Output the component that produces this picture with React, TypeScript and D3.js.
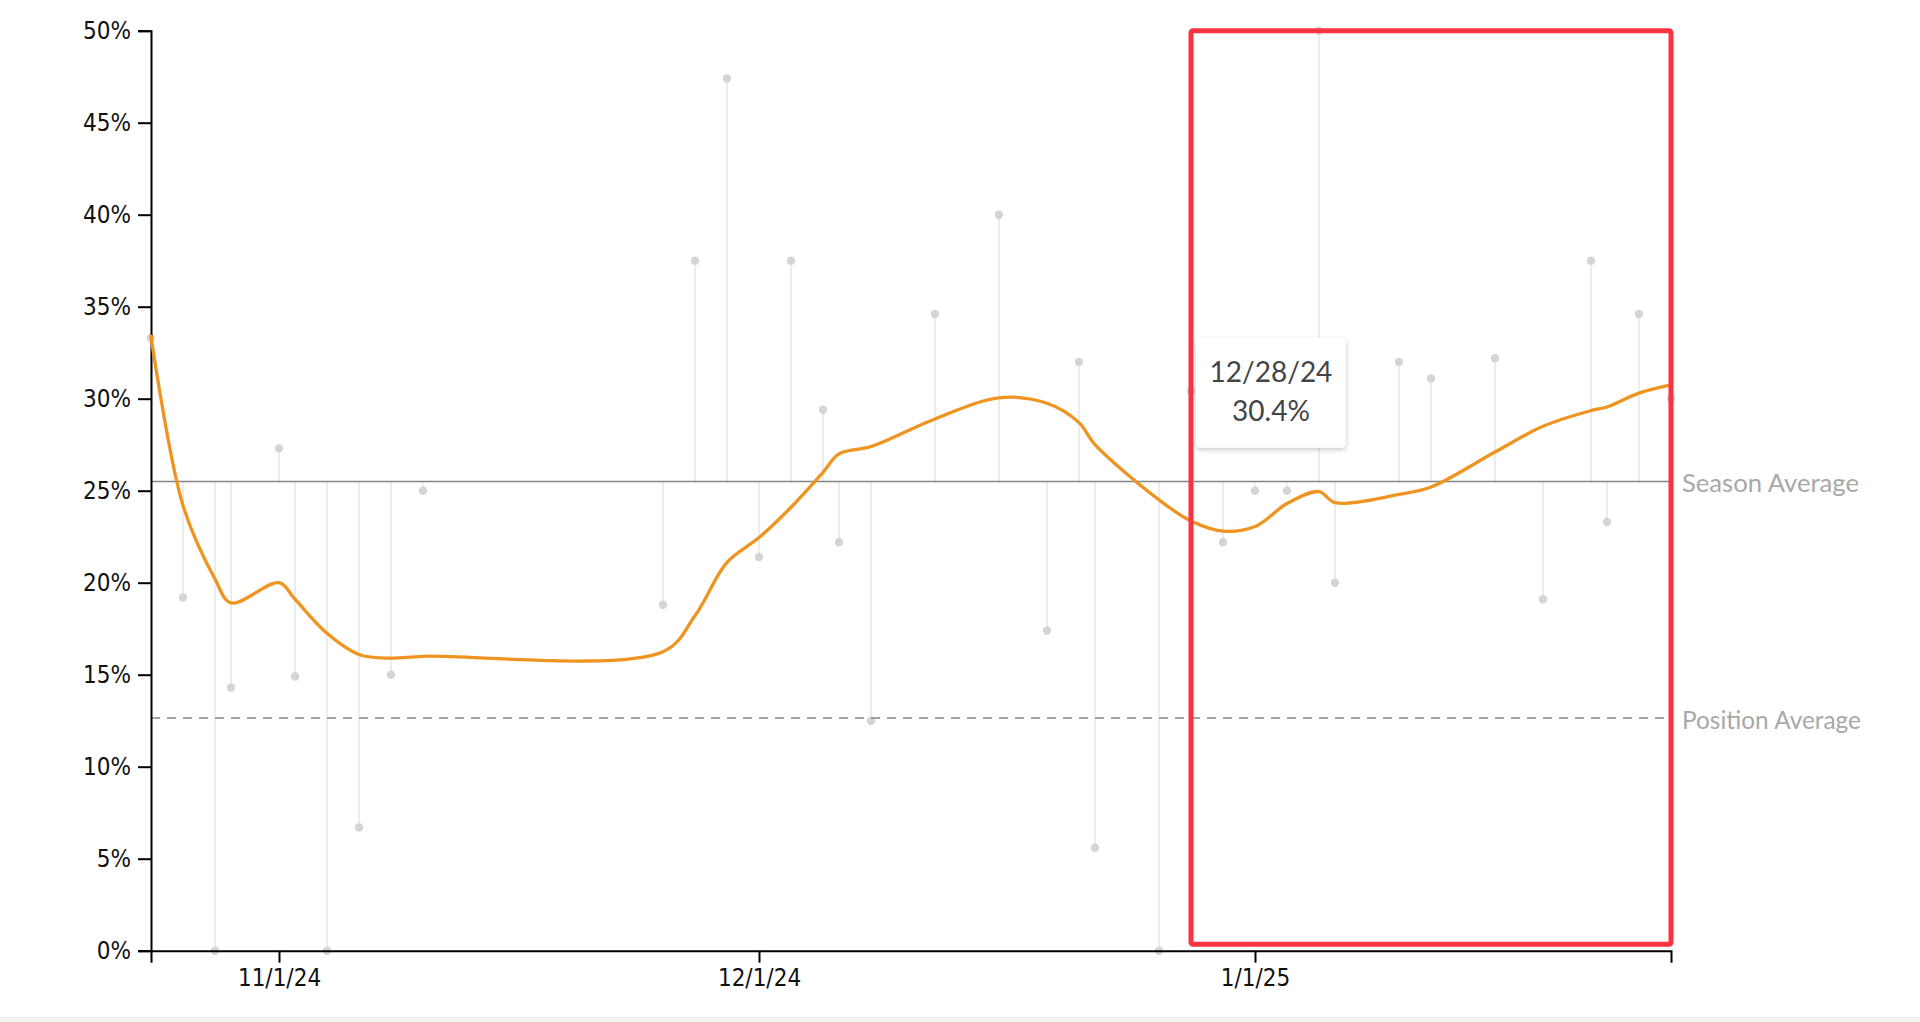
import React, { useEffect, useRef } from "react";
import * as d3 from "d3";

// ---------- data ----------
const gameDates = [
  "2024-10-24", "2024-10-26", "2024-10-28", "2024-10-29", "2024-11-01", "2024-11-02",
  "2024-11-04", "2024-11-06", "2024-11-08", "2024-11-10", "2024-11-25", "2024-11-27",
  "2024-11-29", "2024-12-01", "2024-12-03", "2024-12-05", "2024-12-06", "2024-12-08",
  "2024-12-12", "2024-12-16", "2024-12-19", "2024-12-21", "2024-12-22", "2024-12-26",
  "2024-12-28", "2024-12-30", "2025-01-01", "2025-01-03", "2025-01-05", "2025-01-06",
  "2025-01-10", "2025-01-12", "2025-01-16", "2025-01-19", "2025-01-22", "2025-01-23",
  "2025-01-25", "2025-01-27",
];
const gameValues = [
  33.3, 19.2, 0, 14.3, 27.3, 14.9, 0, 6.7, 15.0, 25.0, 18.8, 37.5,
  47.4, 21.4, 37.5, 29.4, 22.2, 12.5, 34.6, 40.0, 17.4, 32.0, 5.6, 0,
  30.4, 22.2, 25.0, 25.0, 50.0, 20.0, 32.0, 31.1, 32.2, 19.1, 37.5, 23.3,
  34.6, 30.0,
];
const trendValues = [
  33.4, 24.2, 20.2, 18.9, 20.0, 19.1, 17.25, 16.1, 15.9, 16.0, 16.25, 18.2,
  21.1, 22.45, 24.1, 26.0, 27.0, 27.4, 28.9, 30.05, 29.75, 28.7, 27.5, 24.5,
  23.35, 22.8, 23.05, 24.3, 24.95, 24.35, 24.8, 25.2, 27.1, 28.5, 29.35, 29.55,
  30.3, 30.75,
];
const seasonAverage = 25.5;
const positionAverage = 12.65;
const yTickValues = [0, 5, 10, 15, 20, 25, 30, 35, 40, 45, 50];
const xTickDates = ["2024-11-01", "2024-12-01", "2025-01-01"];
const tooltipDate = "2024-12-28";
const highlightStartDate = "2024-12-28";
const referenceLabels = ["Season Average", "Position Average"];
const referenceLabelWidths = [177, 179];

// ---------- layout ----------
const W = 1920;
const H = 1022;
const left = 151;
const right = 1671;
const top = 30.7;
const bottom = 950.7;

const parse = d3.timeParse("%Y-%m-%d");
const fmtDate = d3.timeFormat("%-m/%-d/%y");

export default function App() {
  const xAxisRef = useRef<SVGGElement>(null);
  const yAxisRef = useRef<SVGGElement>(null);

  const dates = gameDates.map((d) => parse(d) as Date);
  const x = d3.scaleTime().domain([dates[0], dates[dates.length - 1]]).range([left, right]);
  const y = d3.scaleLinear().domain([0, 50]).range([bottom, top]);

  const trendLine = d3
    .line<number>()
    .x((_, i) => x(dates[i]))
    .y((v) => y(v))
    .curve(d3.curveCatmullRom.alpha(0.5))(trendValues) as string;

  useEffect(() => {
    const xa = d3
      .axisBottom(x)
      .tickValues(xTickDates.map((d) => parse(d) as Date))
      .tickFormat((d) => fmtDate(d as Date))
      .tickSize(12)
      .tickPadding(6);
    const ya = d3
      .axisLeft(y)
      .tickValues(yTickValues)
      .tickFormat((d) => `${d}%`)
      .tickSize(13)
      .tickPadding(7);
    const gx = d3.select(xAxisRef.current!);
    gx.selectAll("*").remove();
    gx.call(xa);
    const gy = d3.select(yAxisRef.current!);
    gy.selectAll("*").remove();
    gy.call(ya);
    [gx, gy].forEach((g) => {
      g.select(".domain").attr("stroke", "#000").attr("stroke-width", 2);
      g.selectAll(".tick line").attr("stroke", "#000").attr("stroke-width", 2);
      g.selectAll(".tick text")
        .attr("fill", "#111")
        .style("font-family", "'Liberation Sans Narrow', 'DejaVu Sans Condensed', 'Lato', sans-serif")
        .style("font-size", "24px");
    });
  });

  const tipIdx = gameDates.indexOf(tooltipDate);
  const tipX = x(dates[tipIdx]) + 5;
  const tipW = 150;
  const tipH = 110;
  const tipY = y(gameValues[tipIdx]) + 1.5 - tipH / 2;

  const hlX0 = x(parse(highlightStartDate) as Date);
  const hlX1 = x(dates[dates.length - 1]);
  const hlY0 = y(50);
  const hlY1 = y(0.35);

  const refLines = [seasonAverage, positionAverage];

  return (
    <svg
      width={W}
      height={H}
      style={{ position: "absolute", left: 0, top: 0, background: "#fff" }}
      fontFamily="Lato, 'Open Sans', sans-serif"
    >
      <defs>
        <filter id="tipShadow" x="-20%" y="-20%" width="140%" height="150%">
          <feDropShadow dx="0" dy="2" stdDeviation="2.5" floodColor="#000" floodOpacity="0.22" />
        </filter>
      </defs>
      <rect x={0} y={H - 5} width={W} height={5} fill="#f2f2f2" />

      {/* stems */}
      {gameValues.map((v, i) => (
        <line
          key={`s${i}`}
          x1={x(dates[i])}
          x2={x(dates[i])}
          y1={y(seasonAverage)}
          y2={y(v)}
          stroke="#e6e6e6"
          strokeWidth={1.5}
        />
      ))}
      {/* dots */}
      {gameValues.map((v, i) => (
        <circle key={`c${i}`} cx={x(dates[i])} cy={y(v)} r={4.2} fill="#d4d4d4" />
      ))}

      {/* reference lines */}
      <line x1={left} x2={right} y1={y(seasonAverage)} y2={y(seasonAverage)} stroke="#858585" strokeWidth={1.6} />
      <line
        x1={left}
        x2={right}
        y1={y(positionAverage)}
        y2={y(positionAverage)}
        stroke="#858585"
        strokeWidth={1.6}
        strokeDasharray="9,7"
      />
      {refLines.map((v, i) => (
        <text
          key={`rl${i}`}
          x={right + 11}
          y={y(v) + 2}
          dy="0.35em"
          fill="#a8a8a8"
          fontSize={25}
          textLength={referenceLabelWidths[i]}
          lengthAdjust="spacingAndGlyphs"
          fontFamily="Lato, sans-serif"
        >
          {referenceLabels[i]}
        </text>
      ))}

      {/* axes */}
      <g ref={yAxisRef} transform={`translate(${left},0)`} />
      <g ref={xAxisRef} transform={`translate(0,${bottom})`} />

      {/* trend line */}
      <path d={trendLine} fill="none" stroke="#EF9420" strokeWidth={3.3} strokeLinejoin="round" strokeLinecap="round" />

      {/* tooltip */}
      <g>
        <rect x={tipX} y={tipY} width={tipW} height={tipH} rx={5} fill="#fff" filter="url(#tipShadow)" />
        <text x={tipX + tipW / 2} y={tipY + 44} textAnchor="middle" fill="#444" fontSize={28} fontFamily="Lato, 'Open Sans', sans-serif">
          {fmtDate(dates[tipIdx])}
        </text>
        <text x={tipX + tipW / 2} y={tipY + 83} textAnchor="middle" fill="#444" fontSize={28} fontFamily="Lato, 'Open Sans', sans-serif">
          {`${gameValues[tipIdx].toFixed(1)}%`}
        </text>
      </g>

      {/* highlight box */}
      <rect
        x={hlX0}
        y={hlY0}
        width={hlX1 - hlX0}
        height={hlY1 - hlY0}
        rx={2}
        fill="none"
        stroke="#FA3341"
        strokeWidth={5}
      />
    </svg>
  );
}
